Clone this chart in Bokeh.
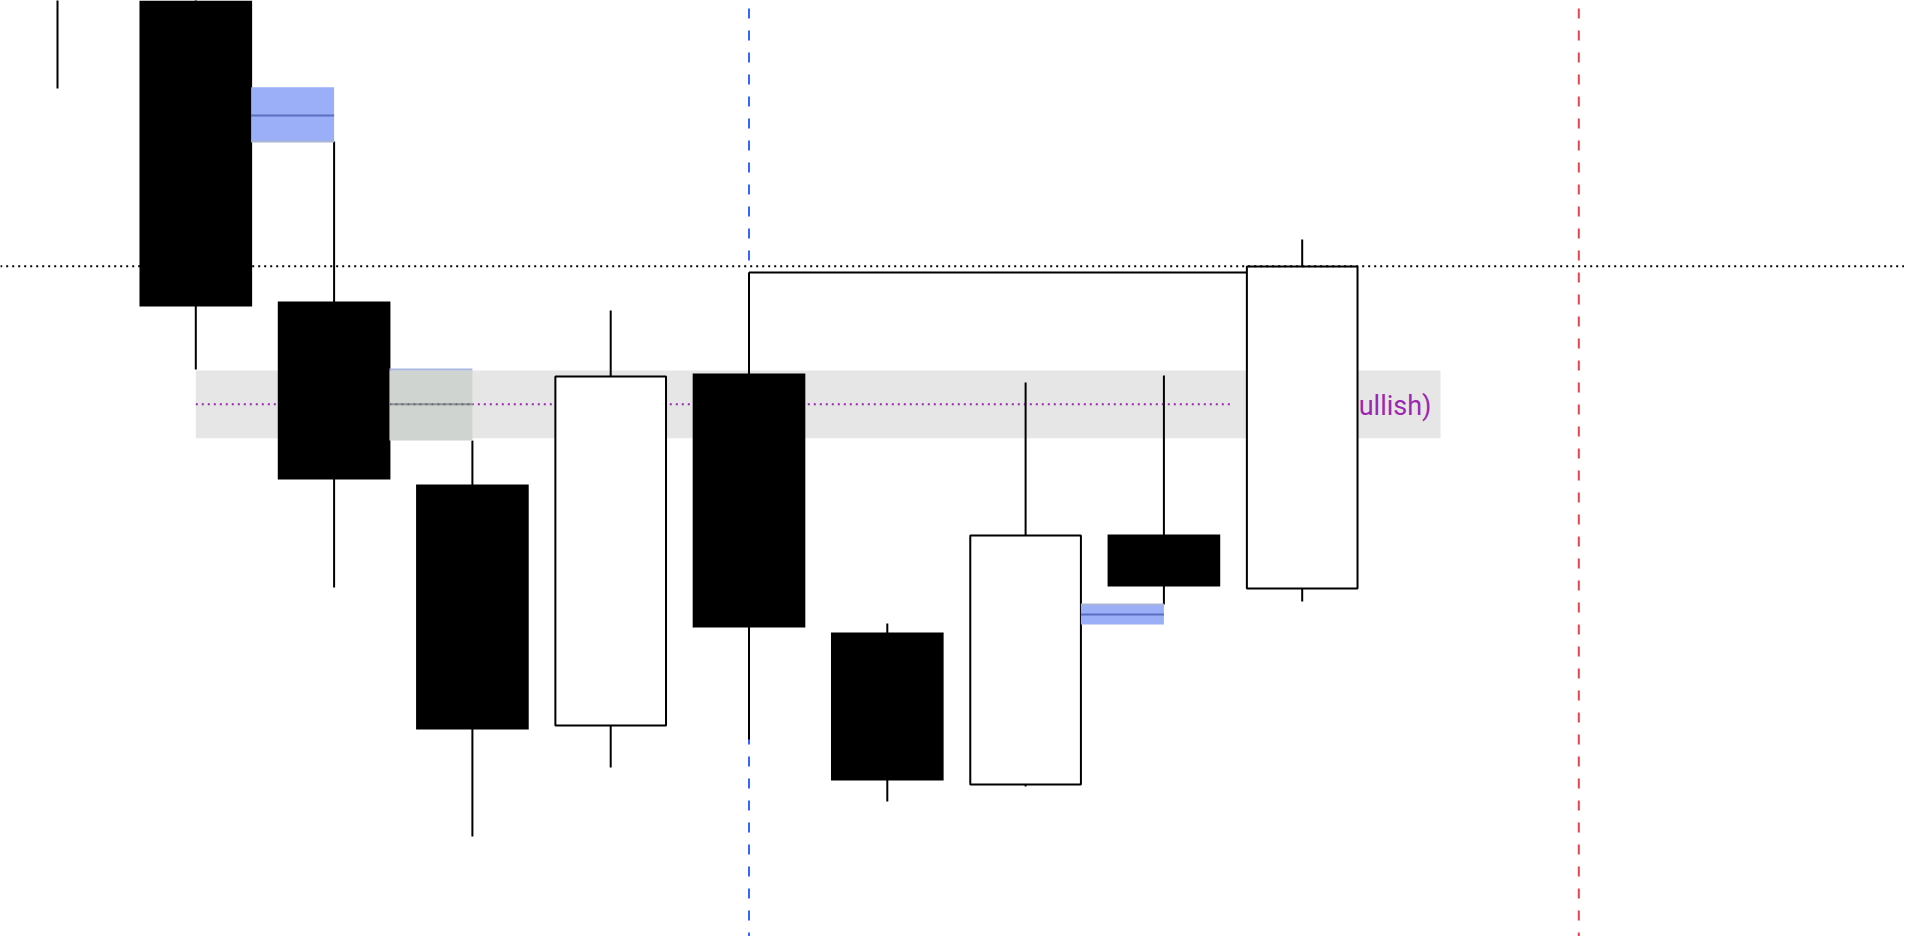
from bokeh.plotting import figure
from bokeh.models import Range1d, ColumnDataSource
from bokeh.core.properties import value
from bokeh.embed import file_html
from bokeh.resources import INLINE

# ---- data (price units, candle index on x) ----
idx    = [0, 1, 2, 3, 4, 5, 6, 7, 8, 9]
opens  = [125.0, 120.0, 69.9, 51.6, 27.5, 62.7, 36.8, 21.6, 46.6, 41.2]
highs  = [130.0, 125.0, 85.9, 56.0, 69.0, 72.8, 37.7, 61.8, 62.5, 76.1]
lows   = [91.2, 63.1, 41.3, 16.4, 23.3, 26.1, 19.9, 21.4, 39.6, 39.9]
closes = [118.0, 69.4, 52.1, 27.1, 62.4, 37.3, 22.0, 46.5, 41.4, 73.4]

# zone (gray band) and its midline / label
zone_x = [1.0, 10.0]
zone_y = [56.23, 63.0]
zone_mid = 59.63
zone_mid_end = 8.5
zone_label = "FVG (Bullish)"
zone_label_y = 59.5

# blue gap boxes: left, right, bottom, top, mid
blue_left   = [1.4, 7.4]
blue_right  = [2.0, 8.0]
blue_bottom = [85.9, 37.6]
blue_top    = [91.33, 39.6]
blue_mid    = [88.5, 38.6]
blue_edge   = [85.9, 39.6]

# green-gray box
green_left, green_right = 2.4, 3.0
green_bottom, green_top = 56.0, 63.0
green_edge = 63.1

# reference lines
level_dotted = 73.43
bracket_y = 72.8
bracket_x = [5.0, 9.0]
vline_blue = 5.0
vline_red = 11.0

W, H = 1904, 936
X0 = -57 / 138.3
X1 = X0 + W / 138.3
Y1 = 100.0
Y0 = Y1 - H / 10.0

p = figure(width=W, height=H, x_range=Range1d(X0, X1), y_range=Range1d(Y0, Y1),
           x_axis_type=None, y_axis_type=None, toolbar_location=None,
           output_backend="svg", min_border=0)
p.grid.visible = False
p.outline_line_color = None
p.background_fill_color = "white"

# gray band
p.quad(left=[zone_x[0]], right=[zone_x[1]], bottom=[zone_y[0]], top=[zone_y[1]],
       fill_color="#e6e6e6", line_color=None)

# vertical dashed lines
p.segment(x0=[vline_blue], x1=[vline_blue], y0=[Y0 - 5], y1=[Y1 + 5],
          line_color="#3566ff", line_width=2, line_dash="10 12")
p.segment(x0=[vline_red], x1=[vline_red], y0=[Y0 - 5], y1=[Y1 + 5],
          line_color="#e5434f", line_width=2, line_dash="10 12")

# purple dotted midline & label
p.segment(x0=[zone_x[0]], x1=[zone_mid_end], y0=[zone_mid], y1=[zone_mid],
          line_color="#9c27b0", line_width=2, line_dash="2 4")
p.text(x=[zone_x[1]], y=[zone_label_y], text=[zone_label], text_align="right",
       text_baseline="alphabetic", x_offset=-9, text_font=value("Roboto"),
       text_font_size="27px", text_color="#9c27b0")

# bracket line from candle 5 high
p.segment(x0=[bracket_x[0]], x1=[bracket_x[1]], y0=[bracket_y], y1=[bracket_y],
          line_color="black", line_width=2)

# candles: wicks for all, bodies only where they reach the visible range
wick_src = ColumnDataSource(dict(x=idx, h=highs, l=lows))
p.segment(x0="x", x1="x", y0="h", y1="l", source=wick_src, line_color="black", line_width=2)

bx, btop, bbot, bfill, bw, blc = [], [], [], [], [], []
for i, o, c in zip(idx, opens, closes):
    lo_, hi_ = min(o, c), max(o, c)
    if lo_ >= Y1 or hi_ <= Y0:
        continue
    bull = c > o
    bx.append(i); btop.append(hi_); bbot.append(lo_)
    bfill.append("white" if bull else "black")
    bw.append(0.8 if bull else 0.8 + 2 / 138.3)
    blc.append("black" if bull else None)
body_src = ColumnDataSource(dict(x=bx, top=btop, bot=bbot, fill=bfill, w=bw, lc=blc))
p.vbar(x="x", width="w", top="top", bottom="bot", source=body_src,
       fill_color="fill", line_color="lc", line_width=2)

# blue boxes
p.quad(left=blue_left, right=blue_right, bottom=blue_bottom, top=blue_top,
       fill_color="#9aaff8", line_color=None)
p.segment(x0=blue_left, x1=blue_right, y0=blue_mid, y1=blue_mid,
          line_color="#5a6fc2", line_width=2)
p.segment(x0=blue_left, x1=blue_right, y0=blue_edge, y1=blue_edge,
          line_color="#a9b5d6", line_width=2)

# green-gray box
p.quad(left=[green_left], right=[green_right], bottom=[green_bottom], top=[green_top],
       fill_color="#cfd4d0", line_color=None)
p.segment(x0=[green_left], x1=[green_right], y0=[green_edge], y1=[green_edge],
          line_color="#a9b8e0", line_width=2)
p.segment(x0=[green_left], x1=[green_right], y0=[zone_mid], y1=[zone_mid],
          line_color="#8e9290", line_width=2)
p.segment(x0=[green_left], x1=[green_right], y0=[zone_mid], y1=[zone_mid],
          line_color="#6e6a78", line_width=2, line_dash="2 4")

# dotted horizontal level
p.segment(x0=[X0 - 1], x1=[X1 + 1], y0=[level_dotted], y1=[level_dotted],
          line_color="black", line_width=2, line_dash="2 4")

open("out.html", "w").write(file_html(p, INLINE))
